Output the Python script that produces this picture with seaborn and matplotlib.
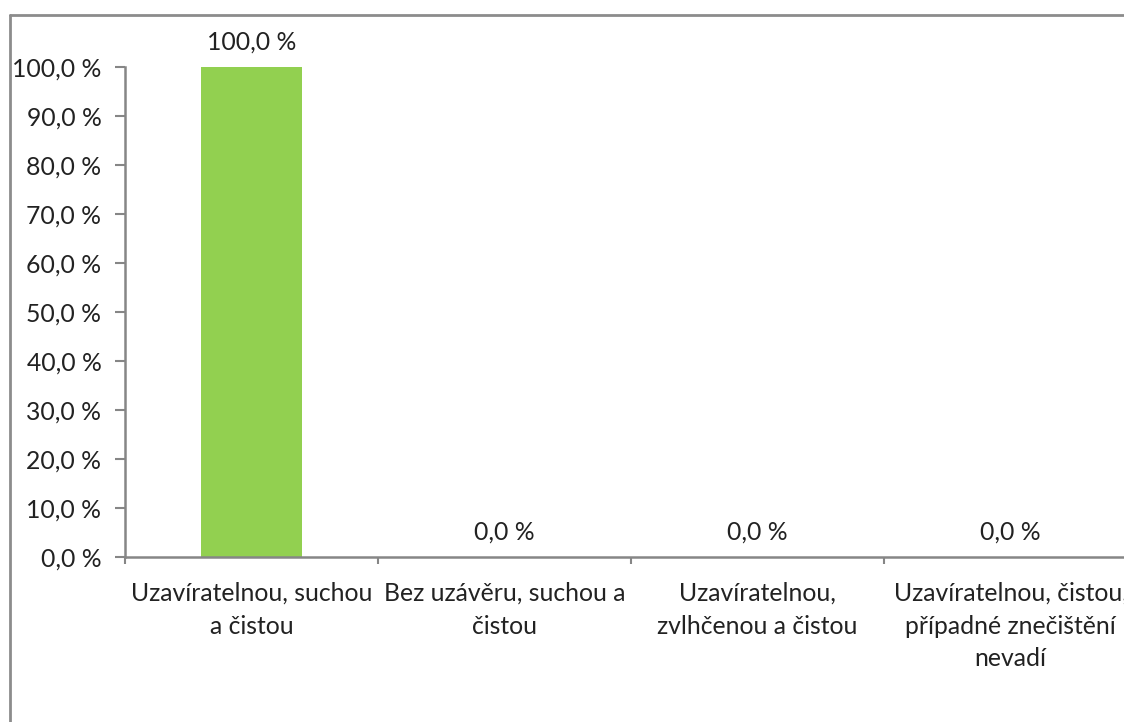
import matplotlib
matplotlib.use("Agg")
import matplotlib.pyplot as plt
from matplotlib.lines import Line2D
import seaborn as sns
import pandas as pd

categories = [
    "Uzavíratelnou, suchou\na čistou",
    "Bez uzávěru, suchou a\nčistou",
    "Uzavíratelnou,\nzvlhčenou a čistou",
    "Uzavíratelnou, čistou,\npřípadné znečištění\nnevadí",
]
values = [100.0, 0.0, 0.0, 0.0]
y_ticks = [0, 10, 20, 30, 40, 50, 60, 70, 80, 90, 100]

sns.set_style("white")
plt.rcParams["font.family"] = ["Lato", "DejaVu Sans"]

text_color = "#222222"
axis_color = "#868686"
bar_color = "#92D050"
fs = 17.8

fig = plt.figure(figsize=(11.24, 7.22), dpi=100)
ax = fig.add_axes([125 / 1124, 165 / 722, 1012 / 1124, 490 / 722])

df = pd.DataFrame({"kategorie": categories, "podil": values})
sns.barplot(data=df, x="kategorie", y="podil", color=bar_color, width=0.4,
            saturation=1, ax=ax)
for p in ax.patches:
    p.set_edgecolor("none")

ax.set_xlim(-0.5, len(categories) - 0.5)
ax.set_ylim(0, 100)
ax.set_xlabel("")
ax.set_ylabel("")

def fmt(v):
    return f"{v:.1f}".replace(".", ",") + " %"

ax.set_yticks(y_ticks)
ax.set_yticklabels([fmt(v) for v in y_ticks])

# category boundaries carry the tick marks, labels sit between them
ax.set_xticks([i - 0.5 for i in range(len(categories) + 1)])
ax.set_xticklabels([])
ax.set_xticks(range(len(categories)), minor=True)
ax.set_xticklabels(categories, minor=True, fontsize=fs, color=text_color,
                   linespacing=1.5)
ax.tick_params(axis="x", which="minor", bottom=True, length=0, pad=18)
ax.tick_params(axis="x", which="major", bottom=True, length=5, width=1.5,
               color=axis_color, direction="out")
ax.tick_params(axis="y", left=True, length=7, width=1.5, color=axis_color,
               direction="out", labelsize=fs, labelcolor=text_color, pad=10)

for side in ["top", "right"]:
    ax.spines[side].set_visible(False)
for side in ["left", "bottom"]:
    ax.spines[side].set_color(axis_color)
    ax.spines[side].set_linewidth(1.8)

for i, v in enumerate(values):
    ax.annotate(fmt(v), xy=(i, v), xytext=(0, 18), textcoords="offset points",
                ha="center", va="center", fontsize=fs, color=text_color,
                annotation_clip=False)

# chart area frame
fx = 10 / 1124
fy = 1 - 15 / 722
fig.add_artist(Line2D([fx, fx], [0, fy], transform=fig.transFigure,
                      color="#8c8c8c", linewidth=2))
fig.add_artist(Line2D([fx, 1], [fy, fy], transform=fig.transFigure,
                      color="#8c8c8c", linewidth=2))

fig.savefig("out.png", dpi=100)
